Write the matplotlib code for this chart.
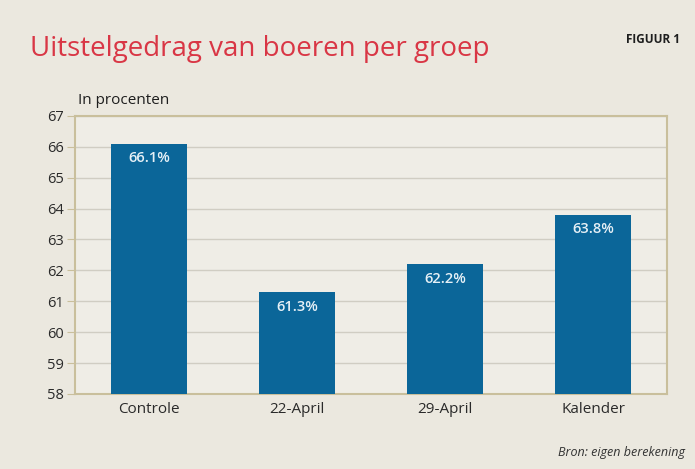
import matplotlib.pyplot as plt
import numpy as np

groups = ["Controle", "22-April", "29-April", "Kalender"]
values = [66.1, 61.3, 62.2, 63.8]
labels = ["66.1%", "61.3%", "62.2%", "63.8%"]

plt.rcParams['font.family'] = ['Open Sans', 'DejaVu Sans']

fig = plt.figure(figsize=(6.95, 4.69), dpi=100)
fig.patch.set_facecolor("#ebe8df")
ax = fig.add_axes([0.108, 0.160, 0.852, 0.593])
ax.set_facecolor("#efede6")

x = np.arange(len(groups))
bars = ax.bar(x, values, width=0.51, bottom=0, color="#0b6699", zorder=3)
for xi, v, lab in zip(x, values, labels):
    ax.text(xi, v - 0.25, lab, ha="center", va="top", color="#e6f0f6",
            fontsize=10.5, fontweight="semibold", zorder=4)

ax.set_ylim(58, 67)
ax.set_xlim(-0.5, 3.5)
ax.set_yticks(range(58, 68))
ax.set_xticks(x)
ax.set_xticklabels(groups, fontsize=11, color="#2a2a2a")
ax.tick_params(axis="y", labelsize=10.5, labelcolor="#2a2a2a", length=6, color="#c9bf9c", pad=2)
ax.tick_params(axis="x", length=0, pad=6)
ax.grid(axis="y", color="#d0cdc3", linewidth=1.0, zorder=1)
for s in ax.spines.values():
    s.set_color("#c9bf9c")
    s.set_linewidth(1.5)

fig.text(0.043, 0.895, "Uitstelgedrag van boeren per groep", color="#d93645",
         fontsize=20, ha="left", va="center")
fig.text(0.978, 0.915, "FIGUUR 1", color="#1e1e1e", fontsize=8.5,
         fontweight="bold", ha="right", va="center")
fig.text(0.112, 0.785, "In procenten", color="#1e1e1e", fontsize=11,
         ha="left", va="center")
fig.text(0.985, 0.035, "Bron: eigen berekening", color="#333333", fontsize=9,
         style="italic", ha="right", va="center")

fig.savefig("out.png", dpi=100, facecolor=fig.get_facecolor())
